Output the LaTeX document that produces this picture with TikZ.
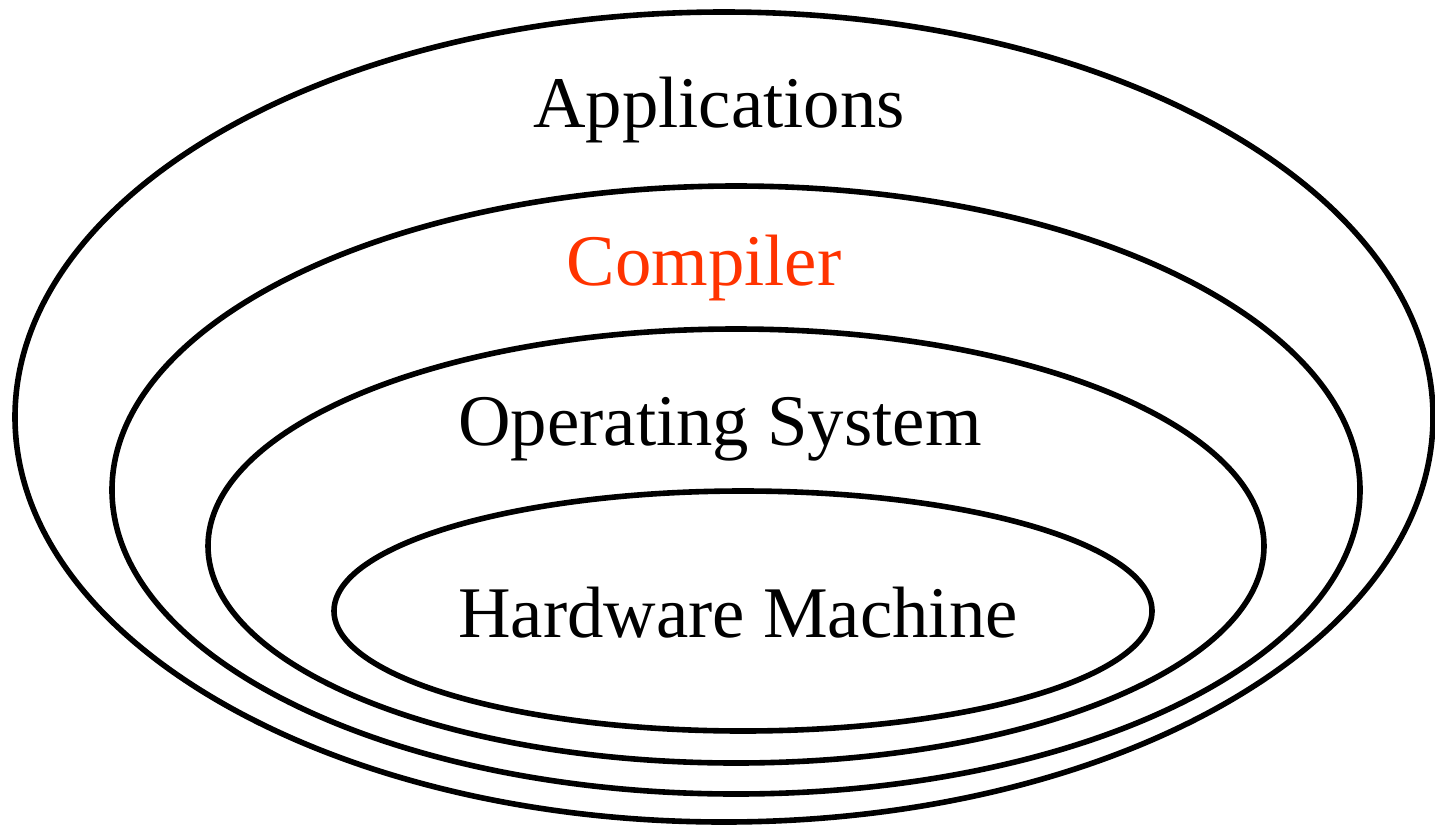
\documentclass[tikz,border=0pt]{standalone}
\usepackage{fontspec}
\setmainfont{LiberationSerif}[Extension=.ttf,UprightFont=*-Regular,BoldFont=*-Bold]
\definecolor{compred}{RGB}{255,51,0}
\begin{document}
\begin{tikzpicture}[x=0.5bp,y=-0.5bp,
  layer/.style={draw=black,line width=2.8bp},
  lbl/.style={anchor=base,inner sep=0pt,font=\rmfamily\fontsize{36.5}{40}\selectfont}]
\useasboundingbox (0,0) rectangle (1435,826);
% nested layers, outermost first
\draw[layer] (724,417) ellipse [x radius=709, y radius=405];
\draw[layer] (736,490) ellipse [x radius=624, y radius=304];
\draw[layer] (736,546) ellipse [x radius=528, y radius=217];
\draw[layer] (743,611) ellipse [x radius=409, y radius=120];
% layer names
\node[lbl] (app) at (719,127) {Applications};
\node[lbl,text=compred] (comp) at (704,285) {Compiler};
\node[lbl] (os) at (720,445) {Operating System};
\node[lbl] (hw) at (738,637) {Hardware Machine};
\end{tikzpicture}
\end{document}
